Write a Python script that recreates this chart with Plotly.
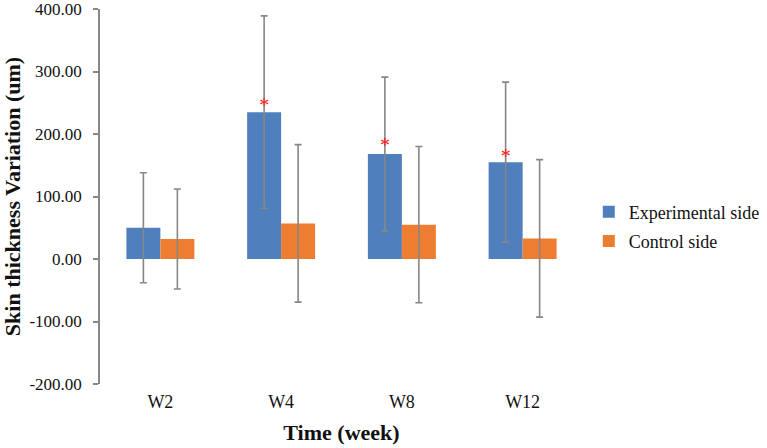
import plotly.graph_objects as go

categories = ["W2", "W4", "W8", "W12"]
exp_values = [50, 235, 168, 155]
exp_errors = [88, 154, 123, 128]
ctl_values = [32, 57, 55, 33]
ctl_errors = [80, 126, 125, 126]
star_values = [None, 243, 179, 161]
star_text = ["", "*", "*", "*"]

y_ticks = [-200, -100, 0, 100, 200, 300, 400]
y_tick_text = [f"{v:.2f}" for v in y_ticks]

BLUE = "#4f7fbd"
ORANGE = "#ed7d31"
GRAY = "#878787"
FONT = "Liberation Serif"

fig = go.Figure()
fig.add_trace(go.Bar(
    x=categories, y=exp_values, name="Experimental side",
    marker=dict(color=BLUE, line=dict(width=0)), offsetgroup="exp",
    error_y=dict(type="data", array=exp_errors, color=GRAY, thickness=1.6, width=3.5),
    legendgroup="a",
))
fig.add_trace(go.Bar(
    x=categories, y=ctl_values, name="Control side",
    marker=dict(color=ORANGE, line=dict(width=0)), offsetgroup="ctl",
    error_y=dict(type="data", array=ctl_errors, color=GRAY, thickness=1.6, width=3.5),
    legendgroup="b",
))
fig.add_trace(go.Scatter(
    x=categories, y=star_values, mode="text", text=star_text,
    textfont=dict(color="#ff2020", size=20, family=FONT), textposition="middle center",
    offsetgroup="exp", showlegend=False, hoverinfo="skip", cliponaxis=False,
))
fig.add_trace(go.Scatter(
    x=categories, y=[None] * 4, mode="text", text=[""] * 4,
    offsetgroup="ctl", showlegend=False, hoverinfo="skip",
))

ymin, ymax = y_ticks[0], y_ticks[-1]
zero_pos = (0 - ymin) / (ymax - ymin)

fig.update_layout(
    template="none",
    width=767, height=448,
    margin=dict(l=100, r=184, t=9, b=64, autoexpand=False),
    paper_bgcolor="white", plot_bgcolor="white",
    barmode="group", bargap=0.437, bargroupgap=0,
    scattermode="group", scattergap=0.437,
    font=dict(family=FONT, size=18, color="#111111"),
    showlegend=True,
    legend=dict(
        x=1.012, y=0.42, xanchor="left", yanchor="middle",
        font=dict(family=FONT, size=18, color="#111111"),
        traceorder="grouped", tracegroupgap=3, bgcolor="rgba(0,0,0,0)",
    ),
    xaxis=dict(
        type="category", showline=False, showgrid=False, zeroline=False,
        ticks="", ticklabelstandoff=5, automargin=False,
        tickfont=dict(family=FONT, size=18, color="#111111"),
        title=dict(text="<b>Time (week)</b>", font=dict(family=FONT, size=22, color="#111111"), standoff=13),
    ),
    xaxis2=dict(
        overlaying="x", anchor="free", position=zero_pos, side="bottom",
        type="linear", range=[-0.5, 3.5], tick0=-0.5, dtick=1,
        showline=True, linecolor=GRAY, linewidth=1.6, automargin=False,
        ticks="outside", ticklen=5, tickcolor=GRAY, tickwidth=1.6,
        showticklabels=False, showgrid=False, zeroline=False,
    ),
    yaxis=dict(
        range=[ymin, ymax], tickvals=y_ticks, ticktext=y_tick_text,
        showline=True, linecolor=GRAY, linewidth=1.6, automargin=False,
        ticks="outside", ticklen=5, tickcolor=GRAY, tickwidth=1.6,
        showgrid=False, zeroline=False, ticklabelstandoff=8, ticklabeloverflow="allow",
        tickfont=dict(family=FONT, size=17, color="#111111"),
        title=dict(text="<b>Skin thickness Variation (um)</b>", font=dict(family=FONT, size=22, color="#111111"), standoff=16),
    ),
)

fig.write_html(
    "out.html",
    config={"displayModeBar": False},
    post_script="document.body.style.margin='0';document.body.style.padding='0';",
)
